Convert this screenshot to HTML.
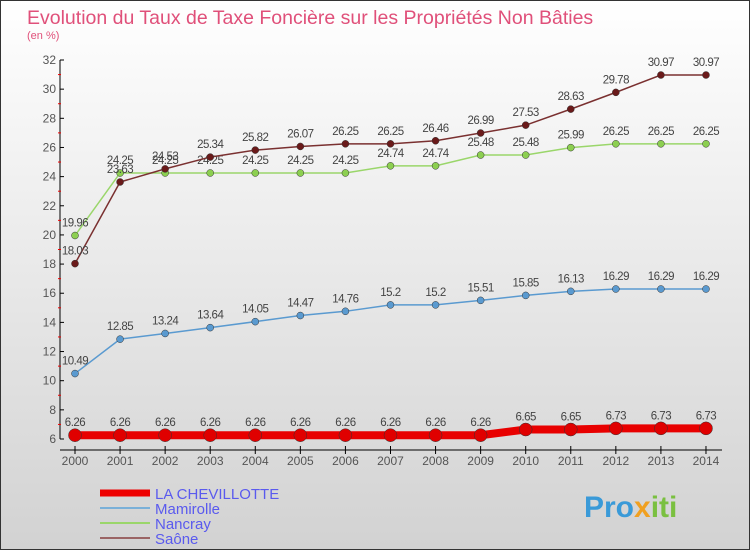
<!DOCTYPE html>
<html><head><meta charset="utf-8"><style>
body{margin:0}
#wrap{width:750px;height:550px;position:relative;overflow:hidden;font-family:"Liberation Sans",sans-serif}
</style></head><body>
<div id="wrap">
<svg id="svg" width="750" height="550" xmlns="http://www.w3.org/2000/svg">
<defs><linearGradient id="bg" x1="0" y1="0" x2="0" y2="1"><stop offset="0" stop-color="#ffffff"/><stop offset="1" stop-color="#d2d2d2"/></linearGradient></defs>
<rect x="0.5" y="0.5" width="749" height="549" fill="url(#bg)" stroke="#333"/>
<text x="27" y="24" font-size="19.5" fill="#e0507a">Evolution du Taux de Taxe Foncière sur les Propriétés Non Bâties</text>
<text x="27" y="39" font-size="11" fill="#e0507a">(en %)</text>
<g id="axes"></g><g id="series"></g>
<g>
<line x1="100" y1="493" x2="150" y2="493" stroke="#e00" stroke-width="7"/>
<text x="155" y="499" font-size="15" fill="#5a5aee">LA CHEVILLOTTE</text>
<line x1="100" y1="508" x2="150" y2="508" stroke="#7ab0d8" stroke-width="2"/>
<text x="155" y="514" font-size="15" fill="#5a5aee">Mamirolle</text>
<line x1="100" y1="523" x2="150" y2="523" stroke="#9ad66a" stroke-width="2"/>
<text x="155" y="529" font-size="15" fill="#5a5aee">Nancray</text>
<line x1="100" y1="538" x2="150" y2="538" stroke="#9a6464" stroke-width="2"/>
<text x="155" y="544" font-size="15" fill="#5a5aee">Saône</text>
</g>
<text x="584" y="517" font-size="30" font-weight="bold" fill="#3a9ad8">Pro<tspan fill="#f0a020">x</tspan><tspan fill="#7ac040">iti</tspan></text>
</svg></div>
<script>
const years=[2000,2001,2002,2003,2004,2005,2006,2007,2008,2009,2010,2011,2012,2013,2014];
const chevillotte=[6.26,6.26,6.26,6.26,6.26,6.26,6.26,6.26,6.26,6.26,6.65,6.65,6.73,6.73,6.73];
const mamirolle=[10.49,12.85,13.24,13.64,14.05,14.47,14.76,15.2,15.2,15.51,15.85,16.13,16.29,16.29,16.29];
const nancray=[19.96,24.25,24.25,24.25,24.25,24.25,24.25,24.74,24.74,25.48,25.48,25.99,26.25,26.25,26.25];
const saone=[18.03,23.63,24.53,25.34,25.82,26.07,26.25,26.25,26.46,26.99,27.53,28.63,29.78,30.97,30.97];
const yTicks=[6,8,10,12,14,16,18,20,22,24,26,28,30,32];
const NS="http://www.w3.org/2000/svg";
const xS=i=>75+i*45.07;
const yS=v=>439-(v-6)*(379/26);
function mk(t,a,p){const e=document.createElementNS(NS,t);for(const k in a)e.setAttribute(k,a[k]);p.appendChild(e);return e;}
const ax=document.getElementById('axes');
let yl=mk('line',{x1:60,y1:yS(32),x2:60,y2:yS(6),stroke:'#000'},ax);


let xl=mk('line',{x1:60,y1:450,x2:722,y2:450,stroke:'#000'},ax);


yTicks.forEach(v=>{
  mk('line',{x1:60,y1:yS(v),x2:64,y2:yS(v),stroke:'#000'},ax);
  if(v<32) mk('line',{x1:58,y1:yS(v+1),x2:61,y2:yS(v+1),stroke:'#e00'},ax);
  const t=mk('text',{x:56,y:yS(v)+4,'font-size':12,fill:'#555','text-anchor':'end'},ax);
  t.textContent=v;
  
  
});
years.forEach((y,i)=>{
  mk('line',{x1:xS(i),y1:446,x2:xS(i),y2:454,stroke:'#000'},ax);
  const t=mk('text',{x:xS(i),y:465,'font-size':12,fill:'#555','text-anchor':'middle'},ax);
  t.textContent=y;
  
  
});
const sg=document.getElementById('series');
function draw(vals,name,col,dot,w,r){
  const g=mk('g',{},sg);
  
  
  const l=mk('polyline',{points:vals.map((v,i)=>xS(i)+','+yS(v)).join(' '),fill:'none',stroke:col,'stroke-width':w},g);
  
  
  vals.forEach((v,i)=>{
    const c=mk('circle',{cx:xS(i),cy:yS(v),r:r,fill:dot,stroke:'#333','stroke-width':0.5},g);
    
    
    const t=mk('text',{x:xS(i),y:yS(v)-9,'font-size':11.5,fill:'#444','text-anchor':'middle','letter-spacing':'-0.5'},g);
    t.textContent=v;
    
    
  });
}
draw(mamirolle,'mamirolle','#5a9ad0','#5a9ad0',1.5,3.5);
draw(nancray,'nancray','#9ad66a','#8ccf50',1.5,3.5);
draw(saone,'saone','#7a3030','#6a1a1a',1.5,3.5);
draw(chevillotte,'la-chevillotte','#e80000','#e00000',8,6.5);
</script>
</body></html>
